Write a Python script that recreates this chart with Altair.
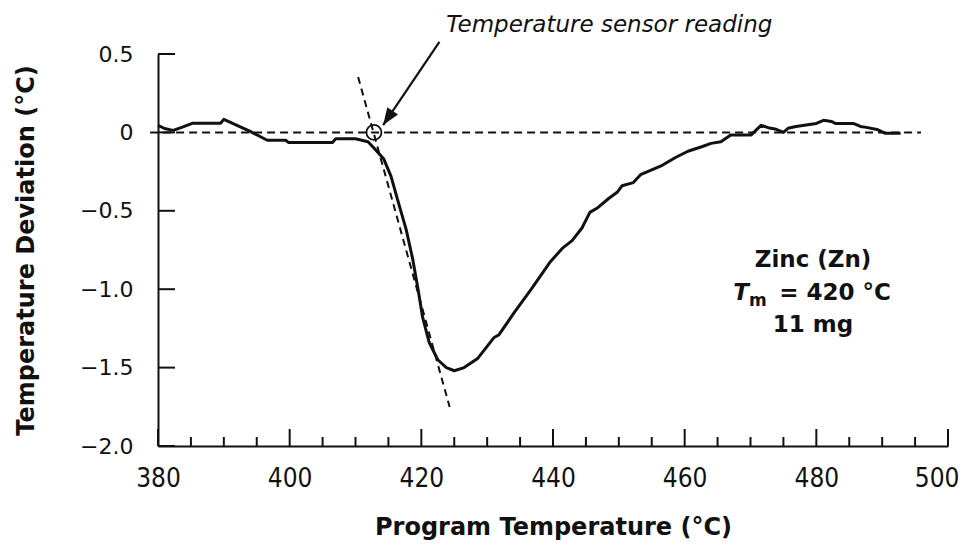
import altair as alt
import pandas as pd

# ---- data ----
curve_x = [380.0, 381.0, 382.3, 383.5, 385.2, 389.5, 390.0, 392.0, 394.0, 396.6,
           399.4, 399.8, 406.5, 407.0, 410.0, 411.9, 412.8, 414.3, 415.4, 416.4,
           417.7, 418.7, 419.5, 420.2, 421.2, 422.5, 423.8, 425.0, 426.5, 428.6,
           431.0, 431.8, 434.1, 436.7, 439.5, 441.4, 442.9, 444.4, 445.6, 446.8,
           448.5, 449.8, 450.5, 452.2, 453.3, 456.6, 458.6, 460.5, 462.7, 464.0,
           465.5, 467.0, 470.1, 471.6, 472.7, 473.9, 475.0, 475.7, 476.9, 480.0,
           481.1, 482.3, 482.9, 485.6, 486.7, 487.6, 489.2, 490.5, 492.8]
curve_y = [0.045, 0.025, 0.013, 0.03, 0.058, 0.058, 0.083, 0.045, 0.006, -0.05,
           -0.05, -0.064, -0.064, -0.04, -0.04, -0.06, -0.10, -0.17, -0.28, -0.43,
           -0.62, -0.81, -1.00, -1.18, -1.34, -1.45, -1.50, -1.52, -1.50, -1.44,
           -1.31, -1.29, -1.15, -1.00, -0.83, -0.74, -0.69, -0.61, -0.51, -0.48,
           -0.42, -0.38, -0.34, -0.32, -0.27, -0.21, -0.16, -0.12, -0.09, -0.07,
           -0.06, -0.016, -0.016, 0.045, 0.03, 0.02, 0.0, 0.026, 0.038, 0.057,
           0.077, 0.07, 0.057, 0.057, 0.038, 0.032, 0.019, -0.006, -0.006]

zero_x = [378.8, 495.9]
zero_y = [0.0, 0.0]
tangent_x = [410.4, 424.3]
tangent_y = [0.353, -1.751]
circle_x = [412.8]
circle_y = [0.0]
arrow_start = [422.75, 0.577]
arrow_tip = [414.2, 0.047]

x_major = [380, 400, 420, 440, 460, 480, 500]
x_minor = [385, 390, 395, 405, 410, 415, 425, 430, 435, 445, 450, 455,
           465, 470, 475, 485, 490, 495]
y_ticks = [0.5, 0.0, -0.5, -1.0, -1.5, -2.0]

note_text = ["Temperature sensor reading"]
note_pos = [423.8, 0.640]
block_center_x = 479.5
block_lines = ["Zinc (Zn)", "11 mg"]
block_y = [-0.858, -1.273]
tm_T_pos = [469.77, -1.068]
tm_sub_pos = [469.77, -1.107]
tm_rest_pos = [474.35, -1.068]
tm_rest = ["= 420 °C"]

FONT = "DejaVu Sans"
INK = "#111111"
W, H = 790, 392

xs = alt.Scale(domain=[380, 500], nice=False, zero=False)
ys = alt.Scale(domain=[-2.0, 0.5], nice=False, zero=False)

x_axis = alt.Axis(
    values=x_major, ticks=False, tickSize=0, grid=False, format="d",
    domainColor=INK, domainWidth=2, labelFlush=False, labelOverlap=False,
    labelFont="DejaVu Sans Condensed", labelFontSize=26, labelPadding=19,
    labelColor=INK,
    labelAlign=alt.ConditionalAxisLabelAlign(
        condition={"test": "datum.value == 500", "value": "right"}, value="center"),
    labelOffset=alt.ConditionalAxisNumber(
        condition={"test": "datum.value == 500", "value": 11}, value=0),
    title="Program Temperature (°C)", titleFont=FONT, titleFontSize=24,
    titleFontWeight="bold", titleColor=INK, titleX=W / 2, titleY=88,
    titleBaseline="alphabetic", titleAlign="center")
y_axis = alt.Axis(
    values=y_ticks, ticks=False, tickSize=0, grid=False,
    domainColor=INK, domainWidth=2, labelFlush=False, labelOverlap=False,
    labelFont=FONT, labelFontSize=22, labelPadding=25, labelColor=INK,
    labelExpr="datum.value == 0 ? '0' : format(datum.value, '.1f')",
    title="Temperature Deviation (°C)", titleFont=FONT, titleFontSize=24,
    titleFontWeight="bold", titleColor=INK, titleX=-132, titleY=H / 2,
    titleAngle=270, titleBaseline="middle", titleAlign="center")


def X(field="x"):
    return alt.X(f"{field}:Q", scale=xs, axis=x_axis)


def Y(field="y"):
    return alt.Y(f"{field}:Q", scale=ys, axis=y_axis)


curve = alt.Chart(pd.DataFrame({"x": curve_x, "y": curve_y})).mark_line(
    color=INK, strokeWidth=3, strokeJoin="round"
).encode(x=X(), y=Y())

ytick_layer = alt.Chart(pd.DataFrame({"y": y_ticks})).mark_rule(
    color=INK, strokeWidth=2).encode(y=Y(), x=alt.value(0), x2=alt.value(17))

xmaj_layer = alt.Chart(pd.DataFrame({"x": x_major})).mark_rule(
    color=INK, strokeWidth=2).encode(x=X(), y=alt.value(H), y2=alt.value(H - 17))

xmin_layer = alt.Chart(pd.DataFrame({"x": x_minor})).mark_rule(
    color=INK, strokeWidth=2).encode(x=X(), y=alt.value(H), y2=alt.value(H - 9))

zero_layer = alt.Chart(pd.DataFrame({"x": zero_x, "y": zero_y})).mark_line(
    color=INK, strokeWidth=2, strokeDash=[8, 5]).encode(x=X(), y=Y())

tangent_layer = alt.Chart(pd.DataFrame({"x": tangent_x, "y": tangent_y})).mark_line(
    color=INK, strokeWidth=2, strokeDash=[7, 5]).encode(x=X(), y=Y())

circle_layer = alt.Chart(pd.DataFrame({"x": circle_x, "y": circle_y})).mark_point(
    shape="circle", filled=False, size=225, strokeWidth=1.8, color=INK, opacity=1
).encode(x=X(), y=Y())

arrow_df = pd.DataFrame({"x": [arrow_start[0]], "y": [arrow_start[1]],
                         "x2": [arrow_tip[0]], "y2": [arrow_tip[1]]})
arrow_line = alt.Chart(arrow_df).mark_rule(color=INK, strokeWidth=2.2).encode(
    x=X(), y=Y(), x2="x2:Q", y2="y2:Q")
arrow_head = alt.Chart(pd.DataFrame({"x": [arrow_tip[0]], "y": [arrow_tip[1]]})).mark_point(
    shape="M0,0L-0.38,1L0.38,1Z", filled=True, size=1156, angle=214,
    color=INK, opacity=1, strokeWidth=0).encode(x=X(), y=Y())

note_layer = alt.Chart(pd.DataFrame({"x": [note_pos[0]], "y": [note_pos[1]], "t": note_text})).mark_text(
    align="left", baseline="alphabetic", font=FONT, fontSize=23, fontStyle="italic",
    color=INK).encode(x=X(), y=Y(), text="t:N")

block_layer = alt.Chart(pd.DataFrame({"x": [block_center_x] * len(block_lines), "y": block_y,
                                      "t": block_lines})).mark_text(
    align="center", baseline="alphabetic", font=FONT, fontSize=23, fontWeight="bold",
    color=INK).encode(x=X(), y=Y(), text="t:N")

tm_T = alt.Chart(pd.DataFrame({"x": [tm_T_pos[0]], "y": [tm_T_pos[1]], "t": ["T"]})).mark_text(
    align="right", baseline="alphabetic", font=FONT, fontSize=23, fontWeight="bold",
    fontStyle="italic", color=INK).encode(x=X(), y=Y(), text="t:N")

tm_sub = alt.Chart(pd.DataFrame({"x": [tm_sub_pos[0]], "y": [tm_sub_pos[1]], "t": ["m"]})).mark_text(
    align="left", baseline="alphabetic", font=FONT, fontSize=17, fontWeight="bold",
    color=INK).encode(x=X(), y=Y(), text="t:N")

tm_rest_layer = alt.Chart(pd.DataFrame({"x": [tm_rest_pos[0]], "y": [tm_rest_pos[1]], "t": tm_rest})).mark_text(
    align="left", baseline="alphabetic", font=FONT, fontSize=23, fontWeight="bold",
    color=INK).encode(x=X(), y=Y(), text="t:N")

chart = alt.layer(
    curve, ytick_layer, xmaj_layer, xmin_layer, zero_layer, tangent_layer,
    circle_layer, arrow_line, arrow_head, note_layer, block_layer,
    tm_T, tm_sub, tm_rest_layer,
).properties(
    width=W, height=H,
    padding={"left": 150, "top": 46, "right": 11, "bottom": 95},
    autosize=alt.AutoSizeParams(type="none"),
    background="white",
).configure_view(stroke=None)

chart.save("out.html", embed_options={"renderer": "svg", "actions": False})
